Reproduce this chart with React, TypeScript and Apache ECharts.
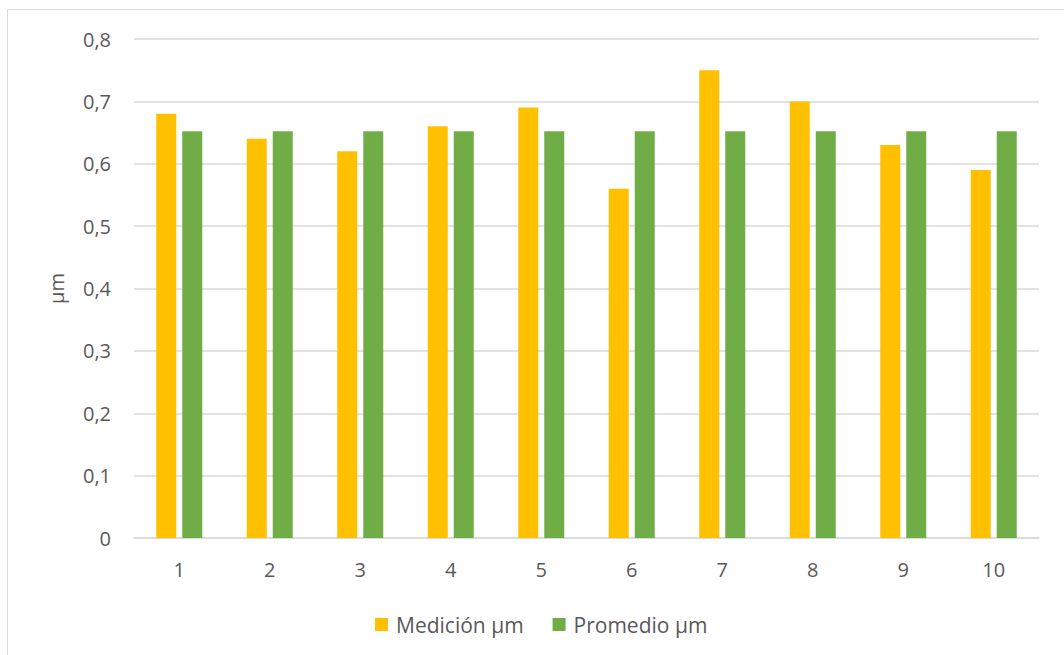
import React, { useEffect, useRef } from "react";
import * as echarts from "echarts";

const categories = ["1", "2", "3", "4", "5", "6", "7", "8", "9", "10"];
const medicion = [0.68, 0.64, 0.62, 0.66, 0.69, 0.56, 0.75, 0.7, 0.63, 0.59];
const promedio = [0.652, 0.652, 0.652, 0.652, 0.652, 0.652, 0.652, 0.652, 0.652, 0.652];
const seriesNames = ["Medición µm", "Promedio µm"];
const yAxisName = "µm";

const FONT = "'Open Sans', sans-serif";
const TXT = "#595959";
const FS = 20;

export default function App() {
  const ref = useRef<HTMLDivElement>(null);
  useEffect(() => {
    if (!ref.current) return;
    const chart = echarts.init(ref.current, undefined, { renderer: "svg" });
    chart.setOption({
      animation: false,
      backgroundColor: "#ffffff",
      textStyle: { fontFamily: FONT },
      graphic: [
        {
          type: "rect",
          shape: { x: 7.5, y: 9.5, width: 1100, height: 700 },
          style: { fill: "none", stroke: "#d9d9d9", lineWidth: 1 },
          silent: true,
        },
      ],
      grid: { left: 134, right: 25, top: 39, bottom: 117, containLabel: false },
      legend: {
        top: 609,
        left: 370,
        itemWidth: 13,
        itemHeight: 13,
        itemGap: 29,
        icon: "rect",
        textStyle: { color: TXT, fontSize: 21, fontFamily: FONT, padding: [0, 0, 0, 3] },
        data: seriesNames,
      },
      xAxis: {
        type: "category",
        data: categories,
        axisLine: { lineStyle: { color: "#d9d9d9", width: 1.5 } },
        axisTick: { show: false },
        axisLabel: { color: TXT, fontSize: FS, margin: 21, fontFamily: FONT },
      },
      yAxis: {
        type: "value",
        min: 0,
        max: 0.8,
        interval: 0.1,
        name: yAxisName,
        nameLocation: "middle",
        nameGap: 68,
        nameRotate: 90,
        nameTextStyle: { color: TXT, fontSize: FS, fontFamily: FONT },
        axisLine: { show: false },
        axisTick: { show: false },
        axisLabel: {
          color: TXT,
          fontSize: FS,
          margin: 23,
          fontFamily: FONT,
          formatter: (v: number) => (Math.round(v * 10) / 10).toString().replace(".", ","),
        },
        splitLine: { lineStyle: { color: "#d9d9d9", width: 1.5 } },
      },
      series: [
        {
          name: seriesNames[0],
          type: "bar",
          data: medicion,
          barWidth: 20,
          barGap: "30%",
          itemStyle: { color: "#ffc000" },
        },
        {
          name: seriesNames[1],
          type: "bar",
          data: promedio,
          barWidth: 20,
          itemStyle: { color: "#70ad47" },
        },
      ],
    });
    return () => chart.dispose();
  }, []);
  return (
    <div
      ref={ref}
      style={{ position: "absolute", left: 0, top: 0, width: 1064, height: 655 }}
    />
  );
}
